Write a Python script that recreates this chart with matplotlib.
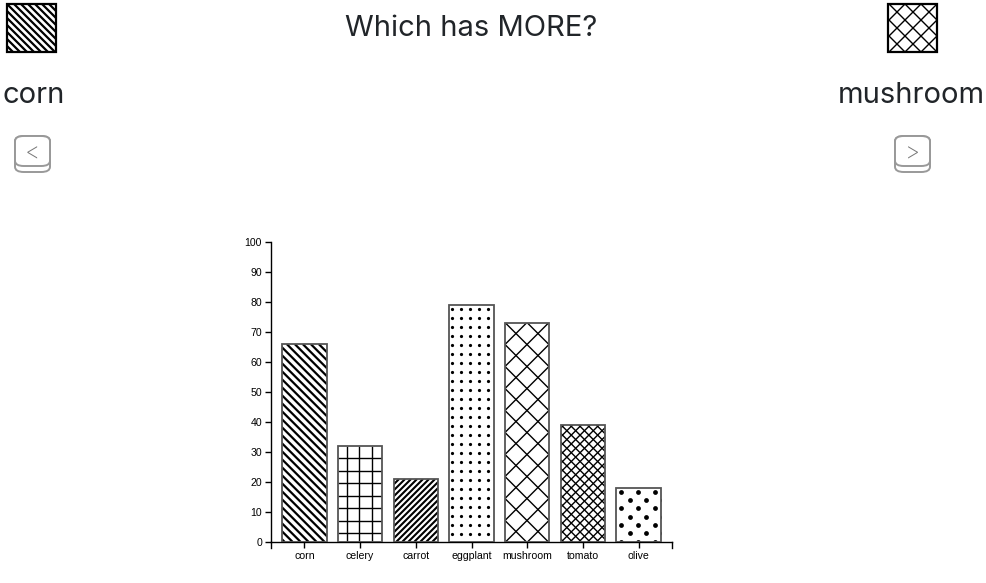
import numpy as np
import matplotlib.pyplot as plt
from matplotlib.collections import LineCollection
from matplotlib.patches import FancyBboxPatch, Rectangle

plt.rcParams['font.family'] = ['Liberation Sans', 'DejaVu Sans']

# data
categories = ['corn', 'celery', 'carrot', 'eggplant', 'mushroom', 'tomato', 'olive']
values = [66, 32, 21, 79, 73, 39, 18]
yticks = list(range(0, 101, 10))
title = 'Which has MORE?'
left_item = 'corn'
right_item = 'mushroom'

# fill pattern per category (pixel spacings)
styles = {
    'corn': dict(dirs=['\\'], step=8, lw=1.6),
    'celery': dict(dirs=['|', '-'], step=12.5, lw=1.0),
    'carrot': dict(dirs=['/'], step=6, lw=1.5),
    'eggplant': dict(dots=(9, 9, 3.2, False)),
    'mushroom': dict(dirs=['/', '\\'], step=22, lw=1.0),
    'tomato': dict(dirs=['/', '\\'], step=8.8, lw=1.0),
    'olive': dict(dots=(16.7, 8.3, 4.8, True)),
}

W, H = 986, 583
fig = plt.figure(figsize=(W / 100, H / 100), dpi=100)


def fig_rect(x, y, w, h):
    # pixel box measured from the top left corner
    return [x / W, 1 - (y + h) / H, w / W, h / H]


def fill_pattern(ax, patch, dirs=(), step=8, lw=1.0, dots=None):
    bb = patch.get_window_extent()
    x0, y0, x1, y1 = bb.x0, bb.y0, bb.x1, bb.y1
    h = y1 - y0
    inv = ax.transData.inverted()
    segs = []
    for d in dirs:
        if d == '|':
            segs += [[(x, y0), (x, y1)] for x in np.arange(x0 + step * 0.7, x1, step)]
        elif d == '-':
            segs += [[(x0, y), (x1, y)] for y in np.arange(y0 + step * 0.7, y1, step)]
        elif d == '/':
            segs += [[(c, y0), (c + h, y1)] for c in np.arange(x1, x0 - h - step, -step)]
        elif d == '\\':
            segs += [[(c, y1), (c + h, y0)] for c in np.arange(x1, x0 - h - step, -step)]
    if segs:
        lc = LineCollection([inv.transform(np.array(s)) for s in segs],
                            colors='black', linewidths=lw, zorder=2)
        ax.add_collection(lc)
        lc.set_clip_path(patch)
    if dots:
        sx, sy, d, stagger = dots
        pts = []
        for i, y in enumerate(np.arange(y1 - sy * 0.45, y0 - sy, -sy)):
            off = sx / 2 if (stagger and i % 2) else 0
            for x in np.arange(x0 + sx * 0.3 + off - sx, x1 + sx, sx):
                pts.append((x, y))
        pts = inv.transform(np.array(pts))
        sc = ax.scatter(pts[:, 0], pts[:, 1], s=(d * 0.72) ** 2, c='black',
                        linewidths=0, zorder=2)
        sc.set_clip_path(patch)


# main chart
ax = fig.add_axes(fig_rect(271, 242, 401, 300))
x = np.arange(len(categories))
ax.set_xlim(-0.6, len(categories) - 0.4)
ax.set_ylim(0, 100)

bars = ax.bar(x, values, width=0.8, color='white', edgecolor='none', zorder=1)
for name, bar in zip(categories, bars):
    fill_pattern(ax, bar, **styles[name])
ax.bar(x, values, width=0.8, fill=False, edgecolor='#555555', linewidth=1.3, zorder=3)

ax.set_xticks(x)
ax.set_xticklabels(categories)
ax.set_yticks(yticks)
for s in ['top', 'right']:
    ax.spines[s].set_visible(False)
for s in ['left', 'bottom']:
    ax.spines[s].set_linewidth(1.0)
ax.tick_params(direction='out', length=4.5, width=1, labelsize=7.6, pad=2)
# outer ticks at the ends of the x axis
ax.plot([0, 0], [0, -0.02], transform=ax.transAxes, color='black', lw=1, clip_on=False)
ax.plot([1, 1], [0, -0.02], transform=ax.transAxes, color='black', lw=1, clip_on=False)

# header: title, item names, pattern swatches, buttons
head_font = ['Inter', 'DejaVu Sans']
fig.text(471 / W, 1 - 29 / H, title, ha='center', va='center', fontsize=21,
         color='#212529', family=head_font)
fig.text(2 / W, 1 - 95 / H, left_item, ha='left', va='center', fontsize=21,
         color='#212529', family=head_font)
fig.text(985 / W, 1 - 95 / H, right_item, ha='right', va='center', fontsize=21,
         color='#212529', family=head_font)

for item, box in [(left_item, (7, 4, 49, 48)), (right_item, (888, 4, 49, 48))]:
    iax = fig.add_axes(fig_rect(*box))
    iax.set_xlim(0, 1)
    iax.set_ylim(0, 1)
    iax.set_axis_off()
    rect = Rectangle((0, 0), 1, 1, facecolor='white', edgecolor='none')
    iax.add_patch(rect)
    st = dict(styles[item])
    if item == 'mushroom':
        st['step'] = 16
    else:
        st['step'] = 7
    fill_pattern(iax, rect, **st)
    iax.add_patch(Rectangle((0, 0), 1, 1, fill=False, edgecolor='black',
                            linewidth=1.6, clip_on=False, zorder=4))

for bx, sym in [(15, '<'), (895, '>')]:
    for hgt in [36, 30]:
        r = FancyBboxPatch((bx / W, 1 - (136 + hgt) / H), 35 / W, hgt / H,
                           boxstyle='round,pad=0,rounding_size=0.009',
                           transform=fig.transFigure, facecolor='white',
                           edgecolor='#999999', linewidth=1.4)
        fig.add_artist(r)
    fig.text((bx + 17.5) / W, 1 - 153 / H, sym, ha='center', va='center',
             fontsize=17, color='#777777', family=head_font, fontweight='light')

fig.savefig('out.png', dpi=100)
